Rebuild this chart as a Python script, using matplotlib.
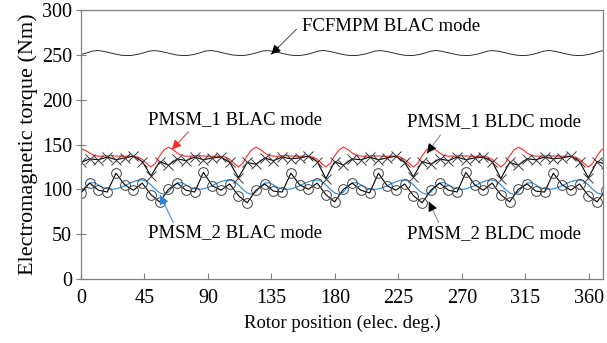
import numpy as np
import matplotlib.pyplot as plt

plt.rcParams['font.family'] = ['Liberation Serif', 'DejaVu Serif']

# Сетки по углу ротора (эл. град.)
angle_fine = np.arange(121) * 3.1   # гладкие кривые BLAC
angle_ff = np.arange(94) * 4.0      # FCFMPM
angle_bldc = np.arange(61) * 6.2    # расчётные точки BLDC (с маркерами)

# Момент FCFMPM, режим BLAC
fcfmpm_blac = [
    250.4, 252.1, 254.2, 254.8, 253.9, 252.5, 251.0, 249.7, 249.2, 249.4,
    250.5, 252.0, 254.1, 254.7, 254.0, 252.6, 251.1, 249.8, 249.2, 249.4,
    250.4, 252.1, 254.2, 254.8, 253.9, 252.4, 251.0, 249.7, 249.3, 249.4,
    250.5, 252.0, 254.1, 254.7, 254.0, 252.6, 251.1, 249.8, 249.2, 249.4,
    250.4, 252.1, 254.2, 254.8, 253.9, 252.5, 251.0, 249.7, 249.2, 249.4,
    250.5, 252.0, 254.1, 254.7, 254.0, 252.6, 251.1, 249.8, 249.2, 249.4,
    250.4, 252.1, 254.2, 254.8, 253.9, 252.4, 251.0, 249.7, 249.3, 249.4,
    250.5, 252.0, 254.1, 254.7, 254.0, 252.6, 251.1, 249.8, 249.2, 249.4,
    250.4, 252.1, 254.2, 254.8, 253.9, 252.5, 251.0, 249.7, 249.2, 249.4,
    250.5, 252.0, 254.1, 254.7,
]

# PMSM_1, режим BLAC
pmsm1_blac = [
    145.0, 143.5, 140.5, 137.8, 137.0, 137.0, 137.3, 137.5, 137.2, 137.0,
    136.8, 137.0, 136.8, 136.0, 133.5, 129.0, 125.0, 129.0, 137.5, 144.0,
    147.0, 144.5, 140.5, 137.8, 137.0, 137.0, 137.3, 137.5, 137.2, 137.0,
    136.8, 137.0, 136.8, 136.0, 133.5, 129.0, 125.0, 129.0, 137.5, 144.0,
    147.0, 144.5, 140.5, 137.8, 137.0, 137.0, 137.3, 137.5, 137.2, 137.0,
    136.8, 137.0, 136.8, 136.0, 133.5, 129.0, 125.0, 129.0, 137.5, 144.0,
    147.0, 144.5, 140.5, 137.8, 137.0, 137.0, 137.3, 137.5, 137.2, 137.0,
    136.8, 137.0, 136.8, 136.0, 133.5, 129.0, 125.0, 129.0, 137.5, 144.0,
    147.0, 144.5, 140.5, 137.8, 137.0, 137.0, 137.3, 137.5, 137.2, 137.0,
    136.8, 137.0, 136.8, 136.0, 133.5, 129.0, 125.0, 129.0, 137.5, 144.0,
    147.0, 144.5, 140.5, 137.8, 137.0, 137.0, 137.3, 137.5, 137.2, 137.0,
    136.8, 137.0, 136.8, 136.0, 133.5, 129.0, 125.0, 129.0, 137.5, 144.0,
    147.0,
]

# PMSM_2, режим BLAC
pmsm2_blac = [
    97.0, 103.0, 107.0, 107.5, 105.0, 102.0, 100.5, 100.0, 100.5, 102.0,
    104.0, 106.5, 108.5, 110.0, 110.5, 109.0, 105.0, 100.0, 96.0, 94.5,
    97.0, 103.0, 107.0, 107.5, 105.0, 102.0, 100.5, 100.0, 100.5, 102.0,
    104.0, 106.5, 108.5, 110.0, 110.5, 109.0, 105.0, 100.0, 96.0, 94.5,
    97.0, 103.0, 107.0, 107.5, 105.0, 102.0, 100.5, 100.0, 100.5, 102.0,
    104.0, 106.5, 108.5, 110.0, 110.5, 109.0, 105.0, 100.0, 96.0, 94.5,
    97.0, 103.0, 107.0, 107.5, 105.0, 102.0, 100.5, 100.0, 100.5, 102.0,
    104.0, 106.5, 108.5, 110.0, 110.5, 109.0, 105.0, 100.0, 96.0, 94.5,
    97.0, 103.0, 107.0, 107.5, 105.0, 102.0, 100.5, 100.0, 100.5, 102.0,
    104.0, 106.5, 108.5, 110.0, 110.5, 109.0, 105.0, 100.0, 96.0, 94.5,
    97.0, 103.0, 107.0, 107.5, 105.0, 102.0, 100.5, 100.0, 100.5, 102.0,
    104.0, 106.5, 108.5, 110.0, 110.5, 109.0, 105.0, 100.0, 96.0, 94.5,
    97.0,
]

# PMSM_1, режим BLDC
pmsm1_bldc = [
    130, 134, 133, 136, 133, 135, 137, 131, 115, 131,
    127, 134, 132, 136, 133, 135, 136, 130, 113, 130,
    128, 135, 132, 136, 134, 135, 137, 131, 112, 131,
    127, 134, 133, 136, 133, 135, 137, 130, 114, 131,
    128, 134, 132, 136, 133, 135, 136, 131, 112, 130,
    127, 134, 133, 136, 134, 135, 137, 131, 113, 131,
    128,
]

# PMSM_2, режим BLDC
pmsm2_bldc = [
    96, 107, 99, 97, 118, 105, 99, 107, 94, 86,
    100, 107, 99, 97, 119, 104, 99, 106, 93, 85,
    99, 106, 98, 97, 118, 105, 100, 107, 94, 86,
    100, 107, 99, 96, 118, 104, 99, 106, 93, 85,
    99, 107, 99, 97, 119, 105, 99, 107, 94, 86,
    100, 106, 98, 97, 118, 105, 99, 106, 93, 86,
    99,
]

x_ticks = [0, 45, 90, 135, 180, 225, 270, 315, 360]
y_ticks = [0, 50, 100, 150, 200, 250, 300]

FS = 13.5

fig = plt.figure(figsize=(6.07, 3.43), dpi=100)
ax = fig.add_axes([81 / 607, 1 - 279 / 343, 522 / 607, 269 / 343])

ax.plot(angle_ff, fcfmpm_blac, color='#202020', lw=0.65)
ax.plot(angle_fine, pmsm1_blac, color='#ff2828', lw=0.8)
ax.plot(angle_fine, pmsm2_blac, color='#2b86d4', lw=0.8)
ax.plot(angle_bldc, pmsm1_bldc, color='black', lw=0.8, marker='x',
        ms=7, mec='#383838', mew=0.7)
ax.plot(angle_bldc, pmsm2_bldc, color='black', lw=0.8, marker='o',
        ms=7, mfc='none', mec='#404040', mew=0.7)

ax.set_xlim(0, 370)
ax.set_ylim(0, 300)
ax.set_xticks(x_ticks)
ax.set_yticks(y_ticks)
ax.tick_params(axis='x', direction='in', length=4, width=0.8, color='#808080',
               labelsize=14.5, pad=7)
ax.tick_params(axis='y', direction='inout', length=7, width=0.8, color='#808080',
               labelsize=14.5, pad=3)
for s in ax.spines.values():
    s.set_color('#808080')
    s.set_linewidth(0.9)

ax.set_xlabel('Rotor position (elec. deg.)', fontsize=FS, labelpad=5)
ax.set_ylabel('Electromagnetic torque (Nm)', fontsize=16, labelpad=3)

# Подписи кривых со стрелками: (текст, положение текста, хвост, острие, цвет линии, цвет головки)
notes = [
    ('FCFMPM BLAC mode', (156.8, 281.6), (152.7, 278.6), (134.8, 250.5), '#505050', 'black'),
    ('PMSM_1 BLAC mode', (47.5, 177.3), (76.2, 164.3), (64.4, 144.5), '#ff2828', '#ff2828'),
    ('PMSM_1 BLDC mode', (231.0, 175.4), (254.8, 160.6), (245.3, 140.2), '#808080', 'black'),
    ('PMSM_2 BLAC mode', (47.5, 51.3), (65.5, 62.8), (56.0, 93.7), '#2b86d4', '#2b86d4'),
    ('PMSM_2 BLDC mode', (231.0, 51.0), (253.6, 62.8), (246.5, 86.2), '#808080', 'black'),
]
for label, txt_pos, tail, tip, lc, hc in notes:
    ax.text(txt_pos[0], txt_pos[1], label, fontsize=FS, ha='left', va='center')
    ax.annotate('', xy=tip, xytext=tail,
                arrowprops=dict(arrowstyle='-', color=lc, lw=0.7, shrinkA=0, shrinkB=0))
    ax.annotate('', xy=tip, xytext=(tip[0] + (tail[0] - tip[0]) * 0.3,
                                    tip[1] + (tail[1] - tip[1]) * 0.3),
                arrowprops=dict(arrowstyle='-|>', color=hc, lw=0.7,
                                mutation_scale=14, shrinkA=0, shrinkB=0))

fig.savefig('out.png', dpi=100)
